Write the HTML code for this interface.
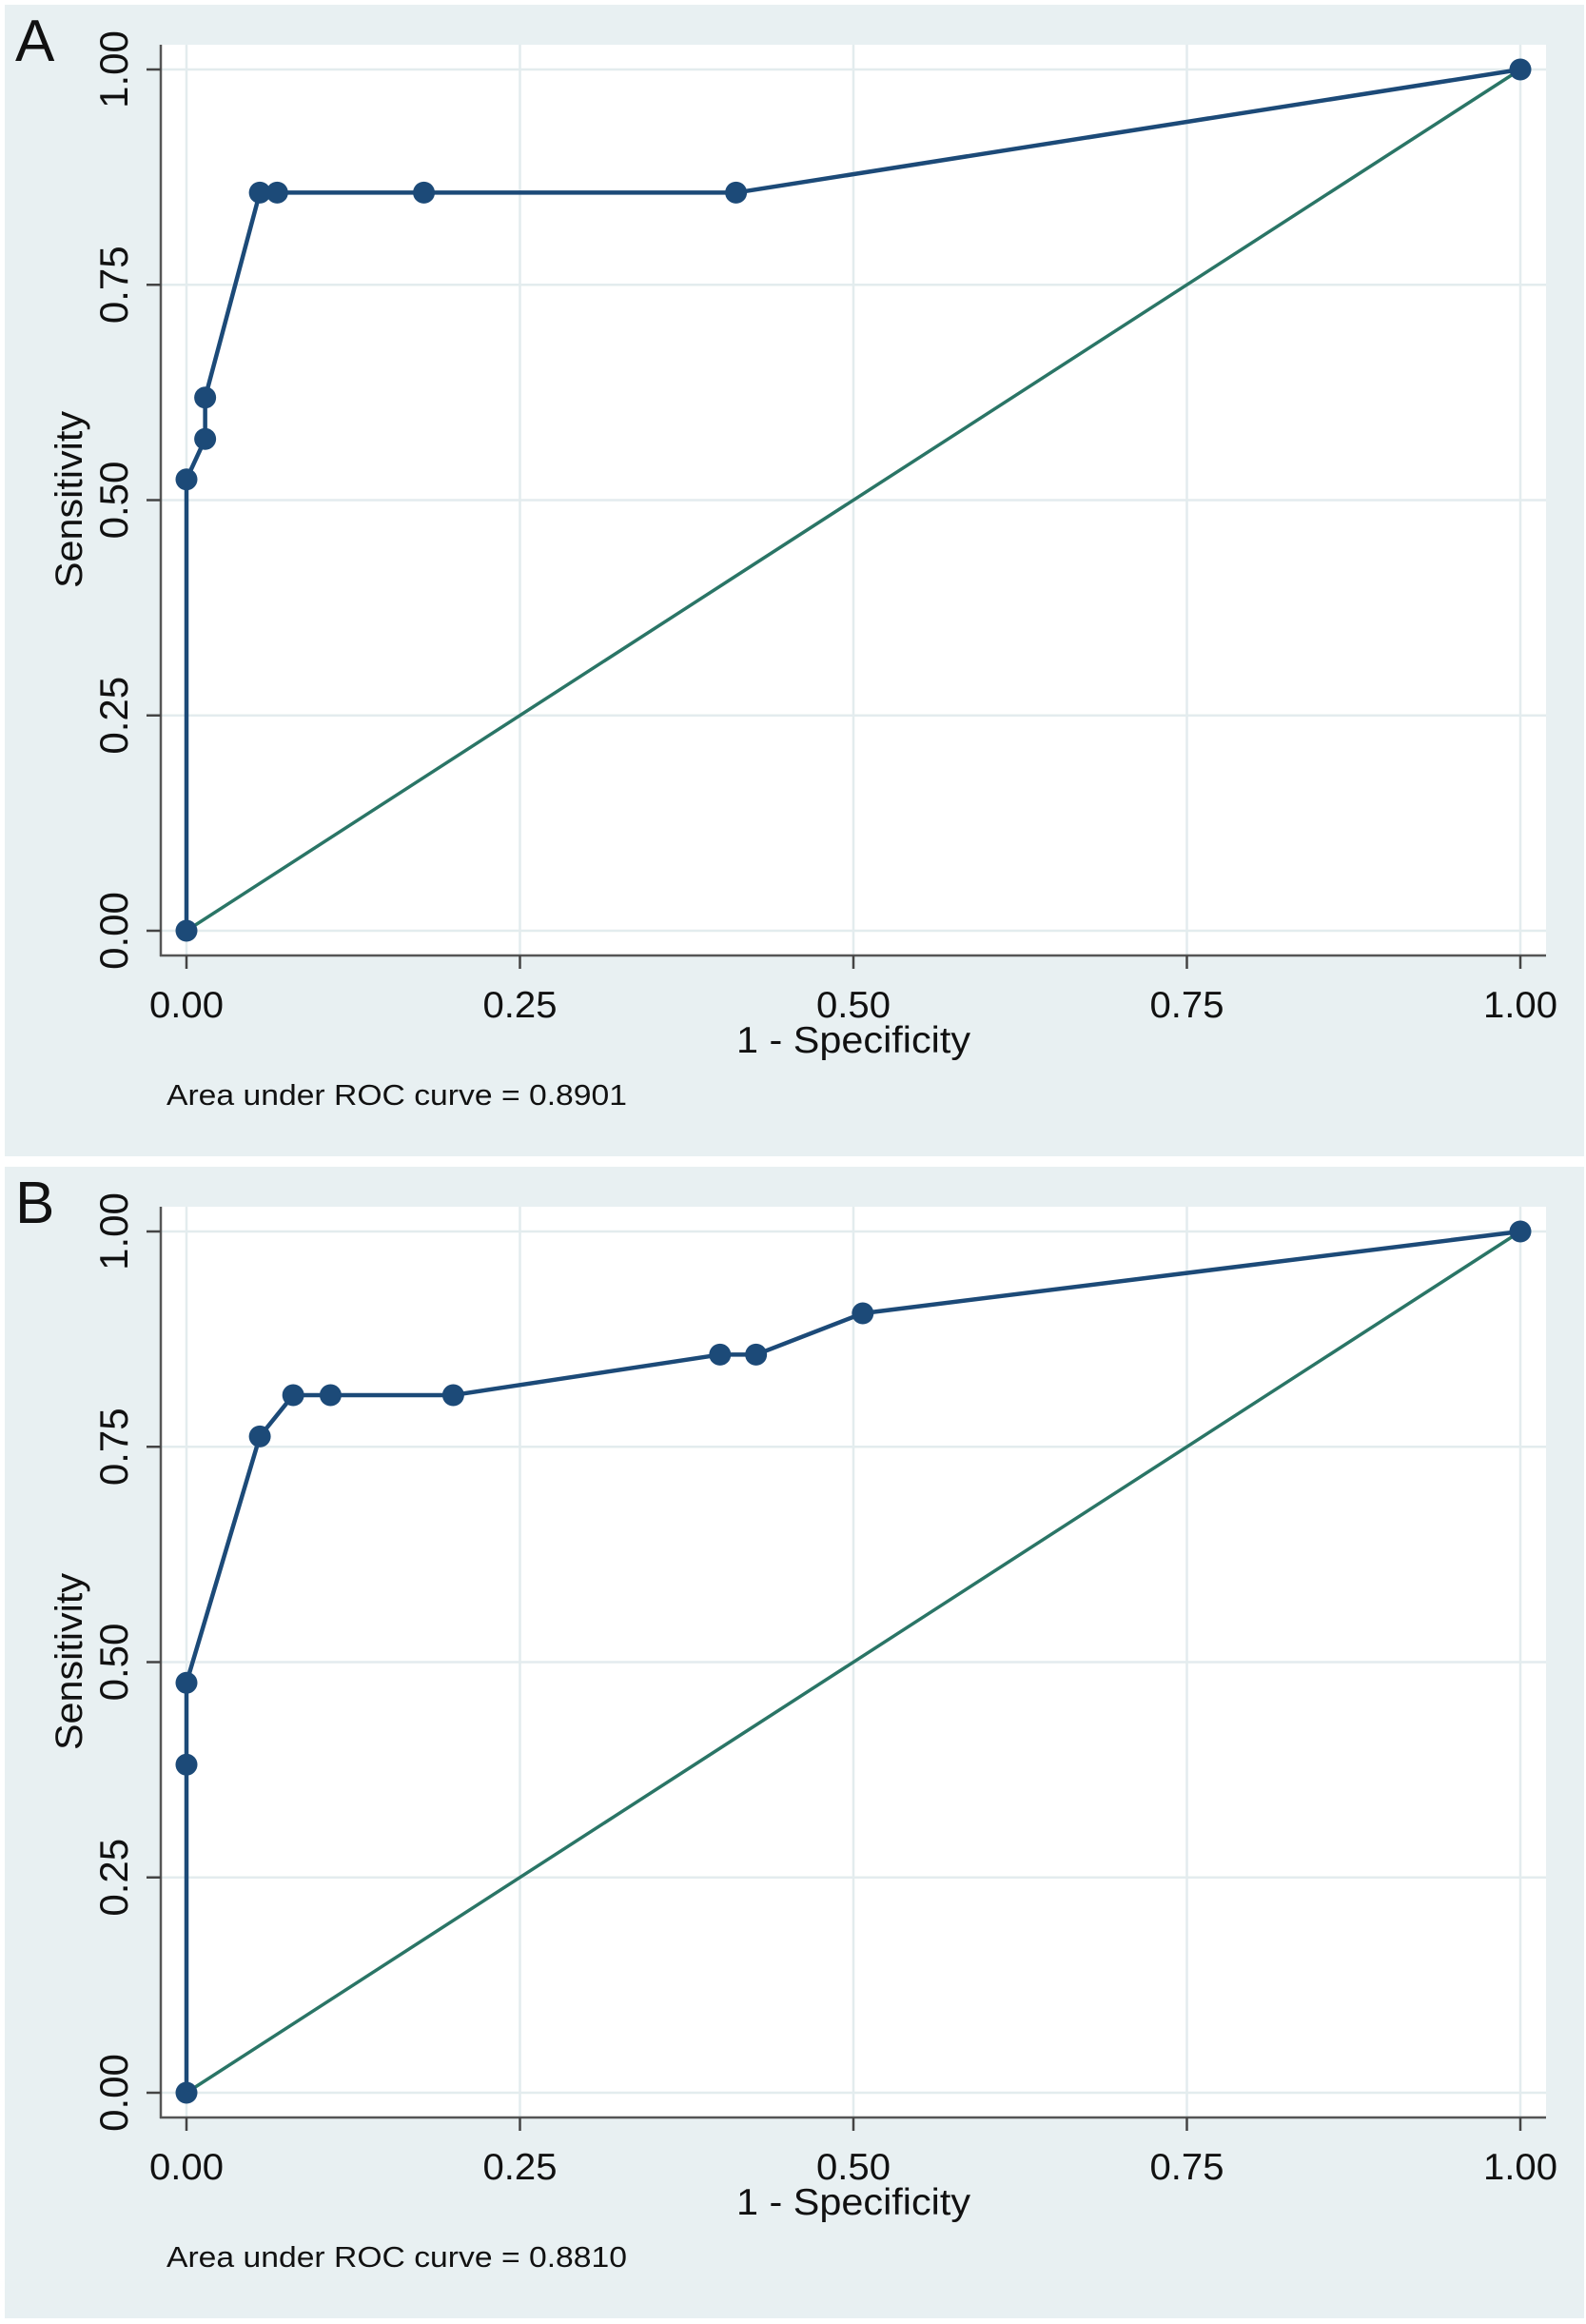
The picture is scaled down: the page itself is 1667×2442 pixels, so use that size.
<!DOCTYPE html>
<html><head><meta charset="utf-8"><style>
html,body{margin:0;padding:0;background:#fff;}
svg{display:block;}
text{font-family:"Liberation Sans",Arial,sans-serif;fill:#111;}
</style></head><body>
<svg id="fig" width="1667" height="2442" viewBox="0 0 1667 2442" xmlns="http://www.w3.org/2000/svg"></svg>
<script>
// Panel A data
const rocAx = [0, 0, 0.014, 0.014, 0.055, 0.068, 0.178, 0.412, 1];
const rocAy = [0, 0.524, 0.571, 0.619, 0.857, 0.857, 0.857, 0.857, 1];
const aucA = "0.8901";
// Panel B data
const rocBx = [0, 0, 0, 0.055, 0.08, 0.108, 0.2, 0.4, 0.427, 0.507, 1];
const rocBy = [0, 0.381, 0.476, 0.762, 0.81, 0.81, 0.81, 0.857, 0.857, 0.905, 1];
const aucB = "0.8810";
const tickVals = [0, 0.25, 0.5, 0.75, 1];
const tickLabels = ["0.00", "0.25", "0.50", "0.75", "1.00"];

const NS = "http://www.w3.org/2000/svg";
const svg = document.getElementById('fig');
function mk(tag, attrs, parent) {
  const e = document.createElementNS(NS, tag);
  for (const k in attrs) e.setAttribute(k, attrs[k]);
  (parent || svg).appendChild(e);
  return e;
}
function panel(off, letter, xs, ys, auc) {
  const g = mk('g', {});
  
  
  const X = v => 196 + v * 1402;
  const Y = v => off + 978 - v * 905;
  const bg = mk('rect', {x: 5, y: off + 5, width: 1660, height: 1210, fill: '#e8f0f2'}, g);
  
  
  const pa = mk('rect', {x: 169, y: off + 47, width: 1456, height: 957, fill: '#ffffff'}, g);
  
  
  tickVals.forEach((v, i) => {
    const gy = mk('line', {x1: 169, x2: 1625, y1: Y(v), y2: Y(v), stroke: '#e3ecee', 'stroke-width': 2.5}, g);
    
    
    const gx = mk('line', {x1: X(v), x2: X(v), y1: off + 47, y2: off + 1004, stroke: '#e3ecee', 'stroke-width': 2.5}, g);
    
    
  });
  const ya = mk('line', {x1: 169, x2: 169, y1: off + 47, y2: off + 1005, stroke: '#555', 'stroke-width': 2.5}, g);
  
  
  const xa = mk('line', {x1: 168, x2: 1625, y1: off + 1004, y2: off + 1004, stroke: '#555', 'stroke-width': 2.5}, g);
  
  
  tickVals.forEach((v, i) => {
    const ty = mk('line', {x1: 154, x2: 169, y1: Y(v), y2: Y(v), stroke: '#444', 'stroke-width': 2.5}, g);
    
    
    const ly = mk('text', {x: 0, y: 0, 'font-size': 42, 'text-anchor': 'middle', transform: `translate(134 ${Y(v)}) rotate(-90)`}, g);
    ly.textContent = tickLabels[i];
    
    
    const tx = mk('line', {x1: X(v), x2: X(v), y1: off + 1004, y2: off + 1018, stroke: '#444', 'stroke-width': 2.5}, g);
    
    
    const lx = mk('text', {x: X(v), y: off + 1069, 'font-size': 39, 'text-anchor': 'middle', textLength: 78, lengthAdjust: 'spacingAndGlyphs'}, g);
    lx.textContent = tickLabels[i];
    
    
  });
  const yt = mk('text', {x: 0, y: 0, 'font-size': 40, 'text-anchor': 'middle', transform: `translate(86 ${off + 525}) rotate(-90)`, textLength: 186, lengthAdjust: 'spacingAndGlyphs'}, g);
  yt.textContent = 'Sensitivity';
  
  
  const xt = mk('text', {x: 897, y: off + 1106, 'font-size': 39, 'text-anchor': 'middle', textLength: 246, lengthAdjust: 'spacingAndGlyphs'}, g);
  xt.textContent = '1 - Specificity';
  
  
  const note = mk('text', {x: 175, y: off + 1161, 'font-size': 31, textLength: 484, lengthAdjust: 'spacingAndGlyphs'}, g);
  note.textContent = 'Area under ROC curve = ' + auc;
  
  
  const lab = mk('text', {x: 16, y: off + 64, 'font-size': 62}, g);
  lab.textContent = letter;
  
  
  const diag = mk('line', {x1: X(0), y1: Y(0), x2: X(1), y2: Y(1), stroke: '#2a7566', 'stroke-width': 3.5}, g);
  
  
  const pts = xs.map((x, i) => X(x) + ',' + Y(ys[i])).join(' ');
  const curve = mk('polyline', {points: pts, fill: 'none', stroke: '#1c4a78', 'stroke-width': 4.5, 'stroke-linejoin': 'round'}, g);
  
  
  xs.forEach((x, i) => {
    const c = mk('circle', {cx: X(x), cy: Y(ys[i]), r: 11.5, fill: '#1c4a78'}, g);
    
    
  });
}
panel(0, 'A', rocAx, rocAy, aucA);
panel(1221, 'B', rocBx, rocBy, aucB);
</script>
</body></html>
